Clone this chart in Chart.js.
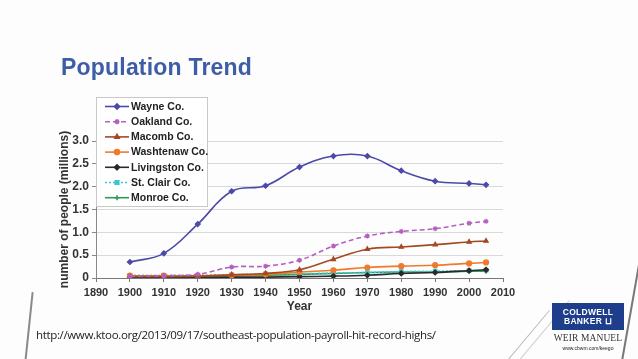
<!DOCTYPE html>
<html>
<head>
<meta charset="utf-8">
<script src="https://cdn.jsdelivr.net/npm/chart.js@4.4.1/dist/chart.umd.min.js"></script>
<style>
  html, body { margin: 0; padding: 0; }
  body { width: 638px; height: 359px; position: relative; overflow: hidden; background: #fdfdfd; font-family: "Liberation Sans", Arial, sans-serif; }
  #wrap { position: absolute; left: 0; top: 0; width: 638px; height: 359px; }
  #title { position: absolute; left: 61px; top: 54px; font-size: 23px; font-weight: bold; color: #3d5ea6; letter-spacing: 0.2px; }
  #source { position: absolute; left: 36px; top: 327px; font-size: 11.5px; color: #222; font-family: "Open Sans", sans-serif; letter-spacing: -0.35px; }
  #logo { position: absolute; left: 552px; top: 303px; width: 72px; }
  #logo .box { background: #1e3e8c; color: #fff; font-weight: bold; font-size: 8.5px; line-height: 9px; text-align: center; padding: 5px 0 4px; letter-spacing: 0.3px; }
  #logo .name { background: #fff; color: #333; font-family: "Liberation Serif", serif; font-size: 9.5px; text-align: center; padding-top: 3px; letter-spacing: 0.1px; }
  #logo .url { color: #222; font-size: 5px; text-align: center; padding-top: 2px; }
  .deco { position: absolute; background: #8a8a8a; }
</style>
</head>
<body>
<div class="deco" style="left:28px; top:292px; width:2px; height:70px; transform:rotate(6deg);"></div>
<div class="deco" style="left:520px; top:300px; width:1px; height:90px; background:#bbb; transform:rotate(40deg);"></div>
<div class="deco" style="left:540px; top:290px; width:1px; height:90px; background:#ccc; transform:rotate(40deg);"></div>
<div class="deco" style="left:630px; top:250px; width:2px; height:120px; background:#777; transform:rotate(10deg);"></div>
<div id="wrap"><canvas id="popChart" width="638" height="359"></canvas></div>
<div id="title">Population Trend</div>
<div id="source">http://www.ktoo.org/2013/09/17/southeast-population-payroll-hit-record-highs/</div>
<div id="logo">
  <div class="box">COLDWELL<br>BANKER ⊔</div>
  <div class="name">WEIR MANUEL</div>
  <div class="url">www.cbwm.com/keego</div>
</div>
<script>
const years = [1900, 1910, 1920, 1930, 1940, 1950, 1960, 1970, 1980, 1990, 2000, 2005];
const wayne = [0.35, 0.54, 1.18, 1.90, 2.02, 2.43, 2.67, 2.67, 2.35, 2.12, 2.07, 2.04];
const oakland = [0.04, 0.05, 0.08, 0.24, 0.26, 0.39, 0.70, 0.92, 1.02, 1.08, 1.20, 1.24];
const macomb = [0.03, 0.03, 0.04, 0.07, 0.10, 0.18, 0.41, 0.63, 0.68, 0.73, 0.79, 0.81];
const washtenaw = [0.05, 0.05, 0.05, 0.06, 0.08, 0.13, 0.17, 0.23, 0.26, 0.28, 0.32, 0.34];
const livingston = [0.02, 0.02, 0.02, 0.02, 0.02, 0.03, 0.04, 0.06, 0.10, 0.12, 0.16, 0.18];
const stClair = [0.06, 0.06, 0.06, 0.07, 0.09, 0.09, 0.11, 0.12, 0.14, 0.15, 0.16, 0.17];
const monroe = [0.03, 0.03, 0.04, 0.05, 0.06, 0.08, 0.10, 0.12, 0.13, 0.13, 0.15, 0.15];
const yTicks = ['0', '0.5', '1.0', '1.5', '2.0', '2.5', '3.0'];

const pts = (vals) => vals.map((v, i) => ({ x: years[i], y: v }));

function series(label, vals, color, style, dash) {
  return {
    label: label,
    data: pts(vals),
    borderColor: color,
    backgroundColor: color,
    pointStyle: style,
    pointRadius: 2.5,
    pointBorderWidth: 1.2,
    borderWidth: 1.6,
    borderDash: dash || [],
    tension: 0.4,
  };
}

// legend drawn as a boxed key sitting over the top-left of the plot
const boxLegend = {
  id: 'boxLegend',
  afterDraw(chart) {
    const ctx = chart.ctx;
    const x0 = 96, y0 = 97, w = 111, h = 109;
    ctx.save();
    ctx.fillStyle = '#ffffff';
    ctx.strokeStyle = '#c8c8c8';
    ctx.lineWidth = 1;
    ctx.fillRect(x0, y0, w, h);
    ctx.strokeRect(x0 + 0.5, y0 + 0.5, w, h);
    ctx.font = 'bold 10.5px "Liberation Sans", Arial, sans-serif';
    ctx.textBaseline = 'middle';
    chart.data.datasets.forEach((ds, i) => {
      const y = y0 + 9.5 + i * 15.2;
      ctx.strokeStyle = ds.borderColor;
      ctx.lineWidth = 1.6;
      ctx.setLineDash(ds.borderDash);
      ctx.beginPath();
      ctx.moveTo(x0 + 9, y);
      ctx.lineTo(x0 + 33, y);
      ctx.stroke();
      ctx.setLineDash([]);
      Chart.helpers.drawPoint(ctx, { pointStyle: ds.pointStyle, radius: 2.5, borderWidth: 1.2 }, x0 + 21, y);
      ctx.fillStyle = ds.borderColor;
      ctx.fill();
      ctx.fillStyle = '#222';
      ctx.fillText(ds.label, x0 + 35, y + 0.5);
    });
    ctx.restore();
  }
};

const ctx = document.getElementById('popChart').getContext('2d');
new Chart(ctx, {
  type: 'line',
  data: {
    datasets: [
      series('Wayne Co.', wayne, '#4b4aa8', 'rectRot'),
      series('Oakland Co.', oakland, '#b55fc0', 'star', [5, 3]),
      series('Macomb Co.', macomb, '#a34a22', 'triangle'),
      series('Washtenaw Co.', washtenaw, '#f07a2c', 'circle'),
      series('Livingston Co.', livingston, '#2a2a2a', 'rectRot'),
      series('St. Clair Co.', stClair, '#39c6d4', 'rect', [2, 2]),
      series('Monroe Co.', monroe, '#2f9a58', 'cross'),
    ],
  },
  options: {
    responsive: false,
    animation: false,
    layout: { padding: { left: 57, right: 135, top: 141, bottom: 41 } },
    plugins: {
      legend: { display: false },
      tooltip: { enabled: false },
    },
    scales: {
      x: {
        type: 'linear',
        min: 1890,
        max: 2010,
        ticks: { stepSize: 10, color: '#333', font: { weight: 'bold', size: 11, family: '"Liberation Sans", Arial' }, padding: 4, maxRotation: 0, callback: (v) => String(v) },
        grid: { display: true, drawOnChartArea: false, drawTicks: true, tickLength: 4, color: '#777' },
        border: { color: '#777' },
        title: { display: true, text: 'Year', color: '#333', font: { weight: 'bold', size: 12, family: '"Liberation Sans", Arial' }, padding: { top: 2 } },
        afterFit: (s) => { s.height = 40; },
      },
      y: {
        min: 0,
        max: 3,
        ticks: { stepSize: 0.5, color: '#333', font: { weight: 'bold', size: 12, family: '"Liberation Sans", Arial' }, padding: 3, callback: (v, i) => yTicks[i] },
        grid: { color: '#d9d9d9', tickLength: 4, tickColor: '#888' },
        border: { color: '#888' },
        title: { display: true, text: 'number of people (millions)', color: '#333', font: { weight: 'bold', size: 12, family: '"Liberation Sans", Arial' }, padding: 0 },
        afterFit: (s) => { s.width = 39; },
      },
    },
  },
  plugins: [boxLegend],
});
</script>
</body>
</html>
